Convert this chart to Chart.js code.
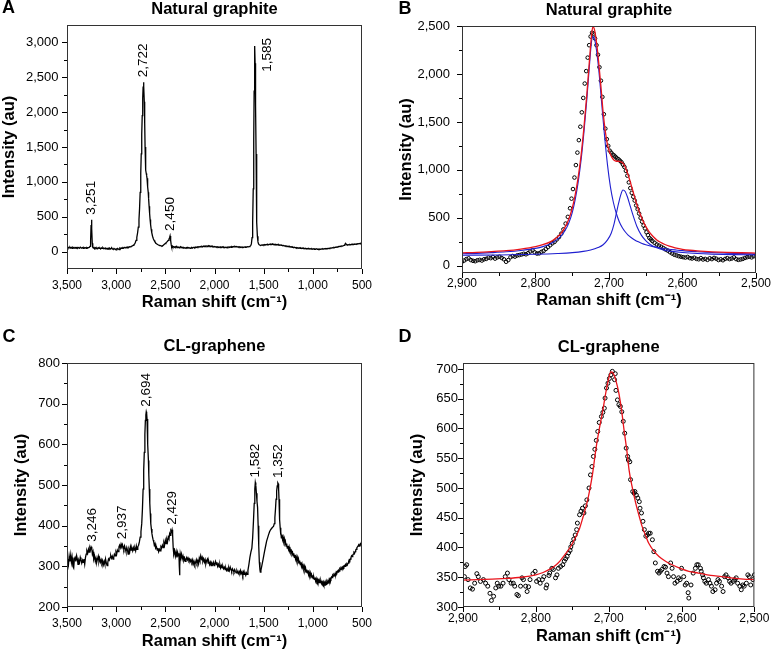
<!DOCTYPE html>
<html>
<head>
<meta charset="utf-8">
<script src="https://cdn.jsdelivr.net/npm/chart.js@4.4.1/dist/chart.umd.min.js"></script>
<style>
  body { margin: 0; background: #fff; }
  #wrap { position: relative; width: 774px; height: 653px; overflow: hidden; }
  canvas { position: absolute; }
</style>
</head>
<body>
<div id="wrap">
  <canvas id="chartA" width="387" height="320" style="left:0;top:0"></canvas>
  <canvas id="chartB" width="387" height="320" style="left:387px;top:0"></canvas>
  <canvas id="chartC" width="387" height="333" style="left:0;top:320px"></canvas>
  <canvas id="chartD" width="387" height="333" style="left:387px;top:320px"></canvas>
</div>
<script>
// ---- tick values ----
const wideShiftTicks = [3500, 3000, 2500, 2000, 1500, 1000, 500];
const narrowShiftTicks = [2900, 2800, 2700, 2600, 2500];
const yTicksA = [0, 500, 1000, 1500, 2000, 2500, 3000];
const yTicksB = [0, 500, 1000, 1500, 2000, 2500];
const yTicksC = [200, 300, 400, 500, 600, 700, 800];
const yTicksD = [300, 350, 400, 450, 500, 550, 600, 650, 700];

// ---- labelled peaks ----
const peaksA = [3251, 2722, 2450, 1585];
const peaksC = [3246, 2937, 2694, 2429, 1582, 1352];

// ---- A: natural graphite spectrum [shift, intensity] ----
const spectrumA = [
[3500,62],[3492,48],[3485,60],[3478,52],[3470,64],[3462,50],[3455,58],[3448,46],[3440,62],[3432,55],[3425,48],[3418,60],[3410,52],[3402,58],[3395,45],[3388,60],[3380,54],[3372,48],[3365,62],[3358,55],[3350,50],[3342,58],[3335,46],[3328,60],[3320,52],[3312,55],[3305,48],[3298,58],[3290,52],[3282,56],[3274,60],[3266,75],[3260,160],[3255,380],[3251,458],[3247,330],[3243,120],[3238,62],[3232,50],[3225,58],[3218,45],[3210,55],[3202,42],[3195,52],[3188,40],[3180,55],[3172,45],[3165,50],[3158,38],[3150,52],[3142,45],[3135,55],[3128,42],[3120,48],[3112,38],[3105,50],[3098,44],[3090,36],[3082,48],[3075,40],[3068,50],[3060,35],[3052,44],[3045,52],[3038,40],[3030,30],[3022,45],[3015,38],[3008,28],[3000,40],[2992,32],[2985,45],[2978,38],[2970,30],[2962,48],[2955,40],[2948,52],[2940,45],[2932,55],[2925,48],[2918,60],[2910,52],[2902,58],[2895,62],[2888,55],[2880,65],[2872,60],[2865,70],[2858,66],[2850,72],[2842,78],[2835,82],[2828,88],[2820,98],[2812,110],[2805,130],[2798,160],[2790,205],[2782,270],[2775,350],[2768,460],[2762,620],[2756,850],[2750,1120],[2745,1400],[2740,1680],[2735,1950],[2730,2200],[2726,2360],[2722,2430],[2718,2370],[2714,2150],[2710,1850],[2706,1500],[2702,1280],[2698,1170],[2694,1120],[2690,1090],[2686,1050],[2682,1000],[2678,930],[2674,850],[2670,760],[2665,650],[2660,550],[2655,460],[2650,390],[2644,320],[2638,270],[2630,220],[2622,185],[2614,160],[2606,140],[2598,125],[2590,112],[2582,105],[2574,98],[2566,92],[2558,88],[2550,84],[2542,80],[2534,78],[2526,85],[2518,95],[2510,105],[2502,115],[2494,125],[2486,135],[2478,148],[2470,160],[2463,178],[2457,200],[2452,225],[2448,215],[2444,160],[2440,95],[2436,70],[2430,80],[2424,65],[2416,72],[2408,60],[2400,70],[2392,62],[2384,75],[2376,58],[2368,66],[2360,55],[2352,64],[2344,70],[2336,56],[2328,62],[2320,50],[2312,60],[2304,55],[2296,48],[2288,58],[2280,52],[2272,60],[2264,50],[2256,56],[2248,46],[2240,54],[2232,60],[2224,50],[2216,58],[2208,62],[2200,55],[2192,65],[2184,58],[2176,68],[2168,62],[2160,70],[2152,64],[2144,72],[2136,66],[2128,75],[2120,68],[2112,78],[2104,70],[2096,82],[2088,74],[2080,80],[2072,72],[2064,85],[2056,76],[2048,82],[2040,70],[2032,78],[2024,68],[2016,75],[2008,66],[2000,72],[1992,64],[1984,70],[1976,62],[1968,68],[1960,60],[1952,66],[1944,58],[1936,65],[1928,60],[1920,68],[1912,58],[1904,64],[1896,56],[1888,62],[1880,55],[1872,64],[1864,58],[1856,66],[1848,60],[1840,68],[1832,62],[1824,70],[1816,64],[1808,72],[1800,66],[1792,74],[1784,68],[1776,72],[1768,65],[1760,70],[1752,62],[1744,68],[1736,60],[1728,66],[1720,58],[1712,64],[1704,60],[1696,66],[1688,62],[1680,68],[1672,64],[1664,70],[1656,68],[1648,72],[1640,76],[1632,85],[1625,110],[1618,200],[1612,420],[1606,900],[1601,1600],[1597,2300],[1593,2800],[1590,2950],[1587,2700],[1584,2500],[1581,2100],[1577,1400],[1573,800],[1569,420],[1564,220],[1558,140],[1552,110],[1545,98],[1538,92],[1530,88],[1522,95],[1514,90],[1506,98],[1498,92],[1490,100],[1482,94],[1474,102],[1466,96],[1458,104],[1450,98],[1442,106],[1434,100],[1426,108],[1418,102],[1410,110],[1402,100],[1394,106],[1386,98],[1378,104],[1370,96],[1362,102],[1354,94],[1346,100],[1338,92],[1330,96],[1322,88],[1314,92],[1306,84],[1298,88],[1290,80],[1282,84],[1274,76],[1266,80],[1258,72],[1250,76],[1242,68],[1234,72],[1226,64],[1218,68],[1210,60],[1202,64],[1194,56],[1186,62],[1178,54],[1170,58],[1162,50],[1154,56],[1146,48],[1138,54],[1130,46],[1122,52],[1114,44],[1106,50],[1098,42],[1090,48],[1082,40],[1074,46],[1066,38],[1058,44],[1050,40],[1042,46],[1034,38],[1026,42],[1018,36],[1010,42],[1002,34],[994,40],[986,32],[978,38],[970,34],[962,40],[954,32],[946,36],[938,30],[930,36],[922,32],[914,38],[906,34],[898,40],[890,36],[882,42],[874,38],[866,44],[858,40],[850,46],[842,42],[834,48],[826,46],[818,52],[810,50],[802,56],[794,54],[786,60],[778,58],[770,64],[762,62],[754,68],[746,66],[738,72],[730,70],[722,76],[714,74],[706,80],[698,78],[690,84],[682,90],[675,100],[668,118],[662,108],[655,98],[648,94],[640,100],[632,96],[624,102],[616,98],[608,104],[600,100],[592,106],[584,102],[576,108],[568,104],[560,110],[552,106],[544,112],[536,110],[528,116],[520,112],[512,118],[504,116],[500,120]
];

// ---- B: natural graphite 2D band, measured points and fit ----
const measuredB = [
[2900,42],[2897,55],[2894,70],[2891,78],[2888,60],[2885,52],[2882,48],[2879,58],[2876,62],[2873,55],[2870,68],[2867,72],[2864,85],[2861,80],[2858,92],[2855,75],[2852,88],[2849,95],[2846,82],[2843,68],[2840,42],[2837,60],[2834,90],[2831,102],[2828,96],[2825,108],[2822,112],[2819,118],[2816,125],[2813,120],[2810,132],[2807,150],[2804,162],[2801,140],[2798,128],[2795,130],[2792,145],[2789,155],[2786,175],[2783,195],[2780,215],[2777,235],[2774,250],[2771,275],[2768,300],[2765,335],[2762,380],[2759,440],[2756,510],[2753,600],[2751,700],[2749,800],[2747,920],[2745,1050],[2743,1180],[2741,1310],[2739,1450],[2737,1600],[2735,1750],[2733,1900],[2731,2030],[2729,2170],[2727,2300],[2725,2390],[2723,2430],[2721,2420],[2719,2370],[2717,2300],[2715,2200],[2713,2070],[2711,1930],[2709,1760],[2707,1580],[2705,1430],[2703,1320],[2701,1250],[2699,1200],[2697,1180],[2695,1160],[2693,1150],[2691,1135],[2689,1120],[2687,1110],[2685,1095],[2683,1080],[2681,1055],[2679,1030],[2677,990],[2675,940],[2673,870],[2671,810],[2669,760],[2667,720],[2665,680],[2663,630],[2661,590],[2659,545],[2657,500],[2655,460],[2653,420],[2651,390],[2649,350],[2647,320],[2645,290],[2643,275],[2641,258],[2638,240],[2635,222],[2632,210],[2629,198],[2626,185],[2623,170],[2620,158],[2617,142],[2614,128],[2611,115],[2608,108],[2605,100],[2602,95],[2599,90],[2596,86],[2593,92],[2590,80],[2587,76],[2584,84],[2581,72],[2578,68],[2575,80],[2572,66],[2569,72],[2566,62],[2563,78],[2560,70],[2557,82],[2554,74],[2551,60],[2548,68],[2545,58],[2542,72],[2539,80],[2536,70],[2533,76],[2530,88],[2527,70],[2524,62],[2521,66],[2518,72],[2515,82],[2512,90],[2509,95],[2506,88],[2503,100],[2500,110]
];
const fitB = [
[2900,135],[2880,140],[2860,148],[2840,158],[2820,175],[2800,200],[2790,220],[2780,250],[2772,290],[2765,340],[2760,400],[2755,480],[2750,600],[2746,740],[2742,920],[2738,1150],[2734,1450],[2730,1800],[2727,2100],[2724,2380],[2722,2490],[2720,2470],[2717,2330],[2714,2120],[2711,1870],[2708,1600],[2705,1400],[2702,1260],[2699,1180],[2696,1130],[2693,1100],[2690,1090],[2687,1090],[2684,1085],[2681,1070],[2678,1030],[2675,970],[2672,900],[2669,820],[2666,740],[2663,660],[2660,590],[2656,510],[2652,440],[2648,385],[2644,340],[2640,305],[2635,270],[2630,245],[2624,222],[2618,205],[2610,188],[2600,172],[2590,162],[2580,155],[2570,150],[2560,146],[2540,140],[2520,136],[2500,133]
];
const fitB1 = [
[2900,125],[2880,130],[2860,137],[2840,146],[2820,160],[2800,182],[2790,200],[2780,228],[2772,265],[2765,312],[2760,365],[2755,440],[2750,555],[2746,690],[2742,870],[2738,1100],[2734,1400],[2730,1750],[2727,2050],[2724,2320],[2722,2390],[2720,2370],[2718,2300],[2714,2050],[2710,1700],[2706,1350],[2702,1050],[2698,820],[2694,660],[2690,545],[2686,460],[2682,400],[2678,355],[2674,320],[2670,295],[2665,270],[2660,250],[2655,233],[2650,220],[2640,200],[2630,186],[2620,175],[2610,166],[2600,158],[2580,147],[2560,138],[2540,132],[2520,127],[2500,123]
];
const fitB2 = [
[2900,110],[2850,113],[2800,120],[2770,128],[2750,137],[2735,150],[2725,165],[2715,190],[2708,220],[2702,270],[2697,340],[2693,440],[2690,546],[2687,650],[2684,740],[2681,790],[2678,775],[2675,720],[2671,620],[2667,520],[2662,410],[2656,320],[2650,262],[2644,222],[2636,190],[2626,165],[2615,150],[2600,138],[2580,128],[2560,122],[2530,117],[2500,114]
];

// ---- C: CL-graphene spectrum ----
const spectrumC = [
[3500,300],[3492,318],[3485,305],[3478,325],[3470,312],[3462,328],[3455,310],[3448,322],[3440,300],[3432,296],[3425,318],[3418,322],[3410,312],[3402,326],[3395,318],[3388,305],[3380,315],[3372,310],[3365,322],[3358,316],[3350,308],[3342,315],[3335,310],[3328,318],[3320,305],[3312,322],[3305,330],[3298,338],[3290,332],[3282,342],[3275,335],[3268,345],[3262,340],[3255,348],[3248,344],[3242,330],[3235,336],[3228,318],[3220,325],[3212,312],[3205,320],[3198,310],[3190,318],[3182,325],[3175,312],[3168,320],[3160,310],[3152,316],[3145,308],[3138,314],[3130,304],[3122,312],[3115,305],[3108,318],[3100,308],[3092,302],[3085,310],[3078,318],[3070,315],[3062,322],[3055,326],[3048,320],[3040,325],[3032,318],[3025,322],[3018,330],[3010,326],[3002,335],[2995,330],[2988,340],[2980,336],[2972,348],[2965,352],[2958,346],[2950,355],[2943,350],[2937,354],[2930,348],[2922,342],[2915,350],[2908,344],[2900,336],[2892,346],[2885,340],[2878,330],[2870,342],[2862,336],[2855,348],[2848,340],[2840,345],[2832,338],[2825,346],[2818,340],[2810,345],[2802,338],[2795,350],[2788,342],[2780,348],[2772,352],[2764,360],[2756,372],[2748,385],[2740,405],[2733,440],[2726,490],[2720,536],[2714,580],[2708,625],[2703,659],[2698,672],[2694,680],[2690,676],[2686,662],[2682,640],[2677,600],[2672,560],[2668,525],[2663,490],[2658,455],[2653,430],[2648,405],[2642,392],[2636,380],[2630,372],[2624,365],[2618,360],[2612,352],[2605,356],[2598,345],[2590,348],[2582,340],[2575,345],[2568,336],[2560,342],[2552,338],[2545,348],[2538,345],[2530,352],[2522,346],[2515,358],[2508,352],[2500,364],[2492,356],[2485,366],[2478,360],[2470,372],[2463,368],[2456,380],[2450,376],[2444,388],[2438,385],[2432,390],[2426,378],[2420,345],[2414,330],[2406,338],[2398,325],[2390,336],[2382,322],[2375,334],[2368,326],[2362,332],[2358,300],[2355,278],[2352,300],[2348,330],[2342,322],[2335,330],[2328,318],[2320,325],[2312,315],[2305,320],[2298,312],[2290,318],[2282,322],[2275,316],[2268,320],[2260,314],[2252,318],[2245,312],[2238,316],[2230,310],[2222,316],[2215,306],[2208,312],[2200,304],[2192,310],[2185,316],[2178,308],[2170,314],[2162,306],[2155,320],[2148,314],[2140,326],[2132,318],[2125,322],[2118,312],[2110,318],[2102,310],[2095,316],[2088,306],[2080,314],[2072,318],[2065,308],[2058,312],[2050,304],[2042,310],[2035,302],[2028,308],[2020,304],[2012,310],[2005,302],[1998,306],[1990,312],[1982,304],[1975,310],[1968,300],[1960,305],[1952,298],[1945,304],[1938,296],[1930,302],[1922,296],[1915,300],[1908,294],[1900,298],[1892,292],[1885,296],[1878,290],[1870,294],[1862,288],[1855,296],[1848,290],[1840,298],[1832,292],[1825,288],[1818,294],[1810,290],[1802,286],[1795,292],[1788,288],[1780,284],[1772,290],[1765,286],[1758,282],[1750,288],[1742,284],[1735,290],[1728,282],[1720,286],[1712,278],[1705,286],[1698,280],[1690,284],[1682,278],[1675,284],[1668,280],[1660,290],[1650,305],[1640,322],[1630,335],[1620,345],[1612,370],[1604,410],[1596,455],[1590,490],[1585,506],[1580,500],[1574,480],[1568,460],[1562,445],[1556,400],[1550,350],[1544,310],[1538,292],[1534,286],[1528,290],[1520,300],[1510,312],[1500,325],[1490,338],[1480,350],[1470,362],[1460,370],[1450,378],[1440,385],[1430,390],[1420,393],[1410,396],[1400,398],[1392,405],[1386,420],[1380,440],[1374,465],[1368,485],[1362,498],[1356,505],[1352,503],[1348,490],[1344,465],[1340,440],[1336,415],[1332,395],[1328,378],[1324,384],[1320,370],[1314,378],[1308,366],[1302,372],[1296,362],[1290,368],[1284,356],[1278,360],[1272,350],[1266,356],[1260,345],[1254,350],[1248,342],[1242,348],[1236,338],[1230,342],[1224,334],[1218,338],[1212,330],[1206,334],[1200,326],[1194,332],[1188,322],[1182,328],[1176,318],[1170,324],[1164,316],[1158,322],[1152,312],[1146,318],[1140,308],[1134,314],[1128,304],[1122,310],[1116,300],[1110,306],[1104,298],[1098,302],[1092,294],[1086,300],[1080,290],[1074,296],[1068,286],[1062,292],[1056,284],[1050,290],[1044,280],[1038,286],[1032,278],[1026,284],[1020,276],[1014,280],[1008,272],[1002,278],[996,270],[990,274],[984,268],[978,272],[972,264],[966,270],[960,264],[954,268],[948,262],[942,266],[936,260],[930,264],[924,260],[918,264],[912,258],[906,262],[900,258],[894,262],[888,256],[882,260],[876,254],[870,260],[864,256],[858,262],[852,258],[846,264],[840,262],[834,268],[828,264],[822,270],[816,268],[810,274],[804,272],[798,278],[792,276],[786,280],[780,278],[774,282],[768,280],[762,286],[756,284],[750,288],[744,286],[738,290],[732,288],[726,294],[720,292],[714,296],[708,294],[702,298],[696,296],[690,300],[684,298],[678,302],[672,300],[666,304],[660,302],[654,306],[648,304],[642,308],[636,312],[630,316],[624,314],[618,318],[612,322],[606,326],[600,324],[594,328],[588,330],[582,334],[576,332],[570,336],[564,340],[558,342],[552,346],[546,348],[540,350],[534,352],[528,350],[522,354],[516,356],[510,352],[504,356],[500,354]
];

// ---- D: CL-graphene 2D band, measured points and fit ----
const measuredD = [
[2898,351],[2897,368],[2895,371],[2893,346],[2890,332],[2887,330],[2884,340],[2881,356],[2879,351],[2876,343],[2872,346],[2869,340],[2866,335],[2863,323],[2861,311],[2858,318],[2855,332],[2853,340],[2851,335],[2848,335],[2845,340],[2842,351],[2839,357],[2837,346],[2834,340],[2831,340],[2829,335],[2826,321],[2824,319],[2821,335],[2819,349],[2817,346],[2814,335],[2812,326],[2810,334],[2808,346],[2804,356],[2801,360],[2799,343],[2796,346],[2794,340],[2791,346],[2789,351],[2786,332],[2785,337],[2782,353],[2781,357],[2778,365],[2776,363],[2773,349],[2771,354],[2769,365],[2766,368],[2763,371],[2761,377],[2759,381],[2757,385],[2755,391],[2753,395],[2752,401],[2750,407],[2748,414],[2746,421],[2744,430],[2743,441],[2740,455],[2738,461],[2736,466],[2734,458],[2732,470],[2730,480],[2727,500],[2725,522],[2723,536],[2721,553],[2719,565],[2717,580],[2715,595],[2713,610],[2710,620],[2708,627],[2706,634],[2705,651],[2703,668],[2701,676],[2699,684],[2697,690],[2695,696],[2692,682],[2691,692],[2690,664],[2688,648],[2686,640],[2684,637],[2682,628],[2680,612],[2678,592],[2676,567],[2674,553],[2673,547],[2671,544],[2670,514],[2667,494],[2665,491],[2664,494],[2662,488],[2660,483],[2658,477],[2657,466],[2655,458],[2653,444],[2651,430],[2649,419],[2647,421],[2645,424],[2643,424],[2640,413],[2638,393],[2636,374],[2633,360],[2631,357],[2629,360],[2627,363],[2624,368],[2622,367],[2620,357],[2618,351],[2615,374],[2613,365],[2611,351],[2609,340],[2606,343],[2604,349],[2602,346],[2600,365],[2597,351],[2595,337],[2593,340],[2591,324],[2590,315],[2587,337],[2584,357],[2581,365],[2579,371],[2577,371],[2574,365],[2573,360],[2571,354],[2570,349],[2568,343],[2566,340],[2563,346],[2561,340],[2559,335],[2557,326],[2554,329],[2552,340],[2550,346],[2548,343],[2545,335],[2543,326],[2541,351],[2539,354],[2536,349],[2534,343],[2532,340],[2529,343],[2527,346],[2525,349],[2523,340],[2520,335],[2518,329],[2516,337],[2514,335],[2511,340],[2509,354],[2507,351],[2505,337],[2502,346],[2500,354]
];
const fitD = [
[2900,345],[2880,346],[2860,347],[2840,348],[2820,350],[2800,354],[2790,358],[2780,364],[2772,371],[2767,377],[2760,388],[2753,400],[2746,416],[2740,432],[2735,452],[2730,474],[2726,497],[2722,525],[2717,570],[2712,605],[2708,631],[2704,660],[2700,684],[2697,695],[2694,693],[2690,680],[2686,659],[2682,628],[2679,598],[2675,562],[2672,530],[2668,503],[2663,475],[2658,452],[2654,435],[2649,419],[2645,407],[2638,394],[2631,385],[2622,377],[2613,371],[2600,364],[2590,360],[2577,357],[2560,353],[2545,351],[2532,349],[2515,347],[2500,346]
];

const toXY = arr => arr.map(p => ({ x: p[0], y: p[1] }));
const fmt = v => v.toLocaleString('en-US');
const FONT = '"Liberation Sans", Arial, Helvetica, sans-serif';

Chart.defaults.font.family = FONT;
Chart.defaults.color = '#000';

// frame, tick marks, panel title/letter and peak labels
const decor = {
  id: 'decor',
  afterDraw(chart, args, o) {
    const { ctx, chartArea: a, scales: { x, y } } = chart;
    ctx.save();
    ctx.strokeStyle = '#333';
    ctx.lineWidth = 1;
    ctx.strokeRect(a.left + 0.5, a.top + 0.5, a.right - a.left - 1, a.bottom - a.top - 1);

    ctx.strokeStyle = '#000';
    ctx.beginPath();
    const xt = x.ticks.map(t => t.value);
    xt.forEach((v, i) => {
      const px = Math.round(x.getPixelForValue(v)) + 0.5;
      ctx.moveTo(px, a.bottom); ctx.lineTo(px, a.bottom + 5);
      if (i < xt.length - 1) {
        const m = Math.round(x.getPixelForValue((v + xt[i + 1]) / 2)) + 0.5;
        ctx.moveTo(m, a.bottom); ctx.lineTo(m, a.bottom + 3);
      }
    });
    const yt = y.ticks.map(t => t.value);
    yt.forEach((v, i) => {
      const py = Math.round(y.getPixelForValue(v)) + 0.5;
      ctx.moveTo(a.left, py); ctx.lineTo(a.left - 5, py);
      if (i < yt.length - 1) {
        const m = Math.round(y.getPixelForValue((v + yt[i + 1]) / 2)) + 0.5;
        ctx.moveTo(a.left, m); ctx.lineTo(a.left - 3, m);
      }
    });
    ctx.stroke();

    ctx.fillStyle = '#000';
    ctx.textBaseline = 'middle';
    ctx.textAlign = 'center';
    ctx.font = 'bold 16.5px ' + FONT;
    ctx.fillText(o.title, (a.left + a.right) / 2, o.titleY);
    ctx.font = 'bold 18px ' + FONT;
    ctx.fillText(o.letter, o.letterX, o.letterY);

    if (o.peaks) {
      const data = o.spectrum;
      ctx.font = '13.5px ' + FONT;
      ctx.textAlign = 'left';
      o.peaks.forEach(pk => {
        let top = -Infinity;
        data.forEach(p => { if (Math.abs(p[0] - pk) <= 12 && p[1] > top) top = p[1]; });
        const label = fmt(pk);
        const w = ctx.measureText(label).width;
        let px = x.getPixelForValue(pk);
        let py = y.getPixelForValue(top) - 5;
        if (py - w < a.top + 4) { px += 12; py = a.top + 13 + w; }
        ctx.save();
        ctx.translate(px, py);
        ctx.rotate(-Math.PI / 2);
        ctx.fillText(label, 0, 0);
        ctx.restore();
      });
    }
    ctx.restore();
  }
};

function xAxis(ticks, min, max, h, pad, titlePad) {
  return {
    type: 'linear', reverse: true, min, max,
    grid: { display: false, drawTicks: false },
    border: { display: false },
    afterBuildTicks: s => { s.ticks = ticks.map(v => ({ value: v })); },
    afterFit: s => { s.height = h; },
    ticks: { font: { size: 12 }, padding: pad, maxRotation: 0, autoSkip: false, callback: v => fmt(v) },
    title: { display: true, text: 'Raman shift (cm⁻¹)', font: { size: 16.5, weight: 'bold' }, padding: { top: 0, bottom: titlePad } }
  };
}

function yAxis(ticks, min, max, w, pad, titlePad) {
  return {
    type: 'linear', min, max,
    grid: { display: false, drawTicks: false },
    border: { display: false },
    afterBuildTicks: s => { s.ticks = ticks.map(v => ({ value: v })); },
    afterFit: s => { s.width = w; },
    ticks: { font: { size: 13 }, padding: pad, autoSkip: false, callback: v => fmt(v) },
    title: { display: true, text: 'Intensity (au)', font: { size: 16.5, weight: 'bold' }, padding: { top: titlePad, bottom: 0 } }
  };
}

function baseOptions(padding, scales, decorOpts) {
  return {
    responsive: false,
    animation: false,
    events: [],
    layout: { padding },
    scales,
    plugins: { legend: { display: false }, tooltip: { enabled: false }, decor: decorOpts }
  };
}

const lineSet = (data, color, width) => ({
  data: toXY(data), showLine: true, borderColor: color, borderWidth: width,
  pointRadius: 0, tension: 0, fill: false
});
const fitSet = (data, color, width) => ({
  data: toXY(data), showLine: true, borderColor: color, borderWidth: width,
  pointRadius: 0, cubicInterpolationMode: 'monotone', fill: false
});
const dotSet = (data, r) => ({
  data: toXY(data), showLine: false, pointRadius: r, pointBorderWidth: 1,
  pointBorderColor: '#000', pointBackgroundColor: 'rgba(0,0,0,0)'
});

new Chart(document.getElementById('chartA'), {
  type: 'scatter',
  data: { datasets: [lineSet(spectrumA, '#000', 1.3)] },
  options: baseOptions({ top: 25, right: 25, left: 0, bottom: 0 }, {
    x: xAxis(wideShiftTicks, 500, 3500, 51, 9, 8),
    y: yAxis(yTicksA, -250, 3250, 67, 8.5, 0)
  }, { title: 'Natural graphite', titleY: 9.5, letter: 'A', letterX: 8.5, letterY: 8.5, peaks: peaksA, spectrum: spectrumA }),
  plugins: [decor]
});

new Chart(document.getElementById('chartB'), {
  type: 'scatter',
  data: { datasets: [
    fitSet(fitB, '#e8141c', 1.3),
    fitSet(fitB1, '#1f1fd0', 1.1),
    fitSet(fitB2, '#1f1fd0', 1.1),
    dotSet(measuredB, 1.8)
  ] },
  options: baseOptions({ top: 26, right: 17, left: 0, bottom: 0 }, {
    x: xAxis(narrowShiftTicks, 2500, 2900, 47, 3, 10),
    y: yAxis(yTicksB, -75, 2500, 75, 12, 9.5)
  }, { title: 'Natural graphite', titleY: 10.3, letter: 'B', letterX: 18, letterY: 9 }),
  plugins: [decor]
});

new Chart(document.getElementById('chartC'), {
  type: 'scatter',
  data: { datasets: [lineSet(spectrumC, '#000', 1.3)] },
  options: baseOptions({ top: 43, right: 25, left: 0, bottom: 0 }, {
    x: xAxis(wideShiftTicks, 500, 3500, 46, 9, 2),
    y: yAxis(yTicksC, 200, 800, 67, 7, 11.8)
  }, { title: 'CL-graphene', titleY: 26.5, letter: 'C', letterX: 9, letterY: 17.5, peaks: peaksC, spectrum: spectrumC }),
  plugins: [decor]
});

new Chart(document.getElementById('chartD'), {
  type: 'scatter',
  data: { datasets: [
    fitSet(fitD, '#e8141c', 1.3),
    dotSet(measuredD, 2)
  ] },
  options: baseOptions({ top: 43, right: 17, left: 0, bottom: 0 }, {
    x: xAxis(narrowShiftTicks, 2500, 2900, 46, 4.6, 6.8),
    y: yAxis(yTicksD, 300, 710, 76, 5, 20.4)
  }, { title: 'CL-graphene', titleY: 27, letter: 'D', letterX: 18, letterY: 17.5 }),
  plugins: [decor]
});
</script>
</body>
</html>
